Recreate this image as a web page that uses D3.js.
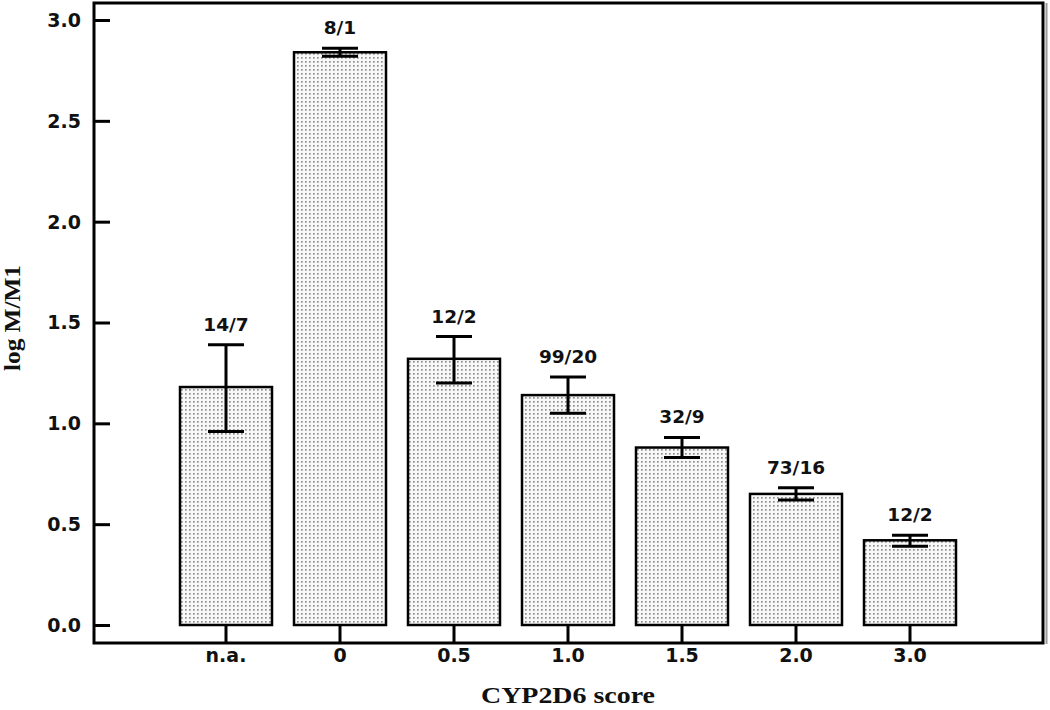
<!DOCTYPE html>
<html>
<head>
<meta charset="utf-8">
<script src="https://cdn.jsdelivr.net/npm/d3@7"></script>
<style>
  html, body { margin: 0; padding: 0; background: #fff; }
  svg { display: block; }
</style>
</head>
<body>
<svg id="chart" width="1050" height="710"></svg>
<script>
const categories = ["n.a.", "0", "0.5", "1.0", "1.5", "2.0", "3.0"];
const means      = [1.18, 2.84, 1.32, 1.14, 0.88, 0.65, 0.42];
const errLow     = [0.96, 2.82, 1.20, 1.05, 0.83, 0.62, 0.39];
const errHigh    = [1.39, 2.86, 1.43, 1.23, 0.93, 0.68, 0.445];
const nLabels    = ["14/7", "8/1", "12/2", "99/20", "32/9", "73/16", "12/2"];
const yTicks     = [0, 0.5, 1.0, 1.5, 2.0, 2.5, 3.0];

const svg = d3.select("#chart");

// pattern for stippled bars
const defs = svg.append("defs");
const pat = defs.append("pattern")
  .attr("id", "dots").attr("patternUnits", "userSpaceOnUse")
  .attr("width", 4).attr("height", 4);
pat.append("rect").attr("width", 4).attr("height", 4).attr("fill", "#f8f8f8");
pat.append("rect").attr("x", 1).attr("y", 1).attr("width", 1.7).attr("height", 1.7).attr("fill", "#8f8f8f");

const frame = { left: 94, top: 3, right: 1043, bottom: 643 };

const y = d3.scaleLinear().domain([0, 3]).range([625, 20]);
const x = d3.scalePoint().domain(categories).range([226, 910]);
const barW = 92;

const sans = "'DejaVu Sans', Verdana, sans-serif";
const serif = "'Liberation Serif', 'Times New Roman', serif";

// frame shadow
svg.append("line")
  .attr("x1", frame.right + 3.5).attr("x2", frame.right + 3.5)
  .attr("y1", frame.top).attr("y2", frame.bottom + 1)
  .attr("stroke", "#9a9a9a").attr("stroke-width", 2);

// frame
svg.append("rect")
  .attr("x", frame.left).attr("y", frame.top)
  .attr("width", frame.right - frame.left).attr("height", frame.bottom - frame.top)
  .attr("fill", "none").attr("stroke", "#000").attr("stroke-width", 3);

// y axis ticks (inward) via d3 axis
const yAxis = d3.axisRight(y).tickValues(yTicks).tickSize(16).tickFormat("");
const yg = svg.append("g").attr("transform", `translate(${frame.left},0)`).call(yAxis);
yg.select(".domain").remove();
yg.selectAll(".tick line").attr("stroke", "#000").attr("stroke-width", 3);

// y tick labels
svg.append("g").selectAll("text").data(yTicks).join("text")
  .attr("x", 81).attr("y", d => y(d))
  .attr("dy", "0.36em")
  .attr("text-anchor", "end")
  .attr("font-family", sans).attr("font-weight", "bold").attr("font-size", 19)
  .attr("fill", "#111")
  .text(d => d3.format(".1f")(d));

// category ticks
svg.append("g").selectAll("line").data(categories).join("line")
  .attr("x1", d => x(d)).attr("x2", d => x(d))
  .attr("y1", y(0)).attr("y2", frame.bottom)
  .attr("stroke", "#000").attr("stroke-width", 3);

// category labels
svg.append("g").selectAll("text").data(categories).join("text")
  .attr("x", d => x(d)).attr("y", 662)
  .attr("text-anchor", "middle")
  .attr("font-family", sans).attr("font-weight", "bold").attr("font-size", 19)
  .attr("fill", "#111")
  .text(d => d);

// bars
svg.append("g").selectAll("rect").data(categories).join("rect")
  .attr("x", d => x(d) - barW / 2)
  .attr("y", (d, i) => y(means[i]))
  .attr("width", barW)
  .attr("height", (d, i) => y(0) - y(means[i]))
  .attr("fill", "url(#dots)")
  .attr("stroke", "#000").attr("stroke-width", 2.5);

// error bars
const eg = svg.append("g").attr("stroke", "#000").attr("stroke-width", 3);
categories.forEach((c, i) => {
  const cx = x(c);
  eg.append("line").attr("x1", cx).attr("x2", cx).attr("y1", y(errLow[i])).attr("y2", y(errHigh[i]));
  eg.append("line").attr("x1", cx - 18).attr("x2", cx + 18).attr("y1", y(errLow[i])).attr("y2", y(errLow[i]));
  eg.append("line").attr("x1", cx - 18).attr("x2", cx + 18).attr("y1", y(errHigh[i])).attr("y2", y(errHigh[i]));
});

// n labels
svg.append("g").selectAll("text").data(categories).join("text")
  .attr("x", d => x(d)).attr("y", (d, i) => y(errHigh[i]) - 14)
  .attr("text-anchor", "middle")
  .attr("font-family", sans).attr("font-weight", "bold").attr("font-size", 18.5)
  .attr("fill", "#111")
  .text((d, i) => nLabels[i]);

// axis titles
svg.append("text")
  .attr("x", 568).attr("y", 703)
  .attr("text-anchor", "middle")
  .attr("font-family", serif).attr("font-weight", "bold").attr("font-size", 24)
  .attr("textLength", 174).attr("lengthAdjust", "spacingAndGlyphs")
  .attr("fill", "#111")
  .text("CYP2D6 score");

svg.append("text")
  .attr("transform", "translate(20,318) rotate(-90)")
  .attr("text-anchor", "middle")
  .attr("font-family", serif).attr("font-weight", "bold").attr("font-size", 24)
  .attr("textLength", 106).attr("lengthAdjust", "spacingAndGlyphs")
  .attr("fill", "#111")
  .text("log M/M1");
</script>
</body>
</html>
